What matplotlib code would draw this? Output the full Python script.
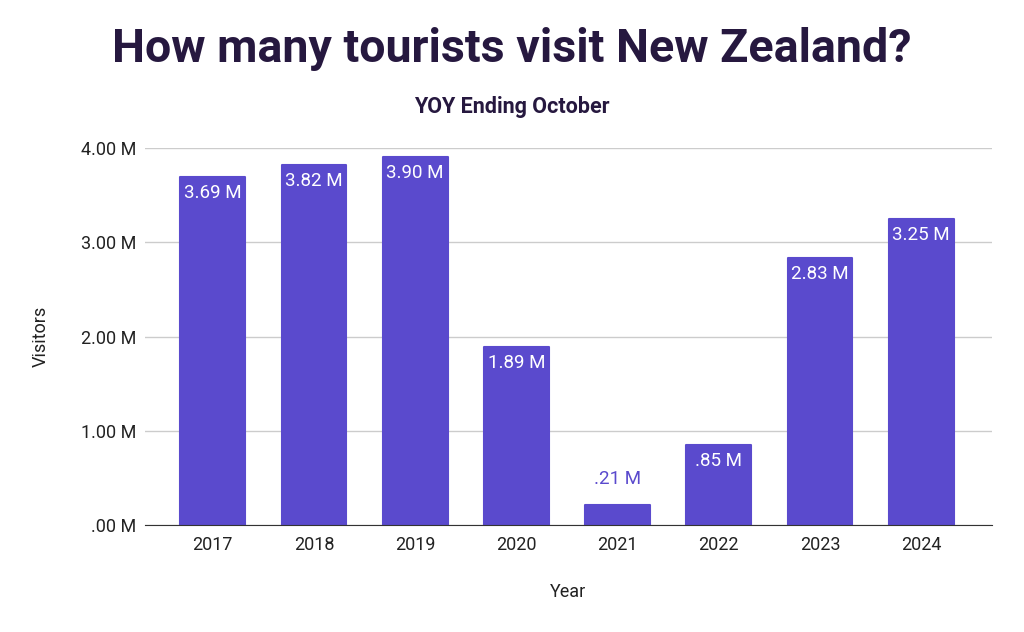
import matplotlib.pyplot as plt

plt.rcParams['font.family'] = ['Roboto', 'DejaVu Sans']

years = ['2017', '2018', '2019', '2020', '2021', '2022', '2023', '2024']
visitors = [3.69, 3.82, 3.90, 1.89, 0.21, 0.85, 2.83, 3.25]
labels = ['3.69 M', '3.82 M', '3.90 M', '1.89 M', '.21 M', '.85 M', '2.83 M', '3.25 M']
yticks = [0, 1, 2, 3, 4]
ytick_labels = ['.00 M', '1.00 M', '2.00 M', '3.00 M', '4.00 M']

bar_color = '#5a4acd'
dark = '#26183f'

fig = plt.figure(figsize=(10.24, 6.32), dpi=100)
ax = fig.add_axes([0.1416, 0.1693, 0.8272, 0.5965])

x = range(len(years))
bars = ax.bar(x, visitors, width=0.64, color=bar_color, edgecolor=bar_color,
              linewidth=1.5, joinstyle='round', zorder=3)

for b, v, lab in zip(bars, visitors, labels):
    cx = b.get_x() + b.get_width() / 2
    if v < 0.4:
        # too short to hold its label, so the label goes above
        ax.annotate(lab, (cx, v), xytext=(0, 19), textcoords='offset points',
                    ha='center', va='center', color=bar_color, fontsize=13.5)
    else:
        ax.annotate(lab, (cx, v), xytext=(0, -11.5), textcoords='offset points',
                    ha='center', va='center', color='white', fontsize=13.5)

ax.set_xlim(-0.67, 7.7)
ax.set_ylim(0, 4)
ax.set_xticks(list(x))
ax.set_xticklabels(years, fontsize=13, color='#222222')
ax.set_yticks(yticks)
ax.set_yticklabels(ytick_labels, fontsize=13, color='#222222')
ax.tick_params(axis='x', length=0, pad=8)
ax.tick_params(axis='y', length=0, pad=6.5)
ax.grid(axis='y', color='#cccccc', linewidth=1, zorder=0)
for s in ['top', 'right', 'left']:
    ax.spines[s].set_visible(False)
ax.spines['bottom'].set_color('#333333')
ax.spines['bottom'].set_zorder(4)

ax.set_xlabel('Year', fontsize=13, color='#222222', labelpad=21)
ax.set_ylabel('Visitors', fontsize=13, color='#222222', labelpad=22)

fig.text(0.5, 0.922, 'How many tourists visit New Zealand?', ha='center', va='center',
         fontsize=33.6, fontweight='bold', color=dark)
fig.text(0.5, 0.831, 'YOY Ending October', ha='center', va='center',
         fontsize=15.5, fontweight='bold', color=dark)

fig.savefig('out.png', dpi=100, facecolor='white')
